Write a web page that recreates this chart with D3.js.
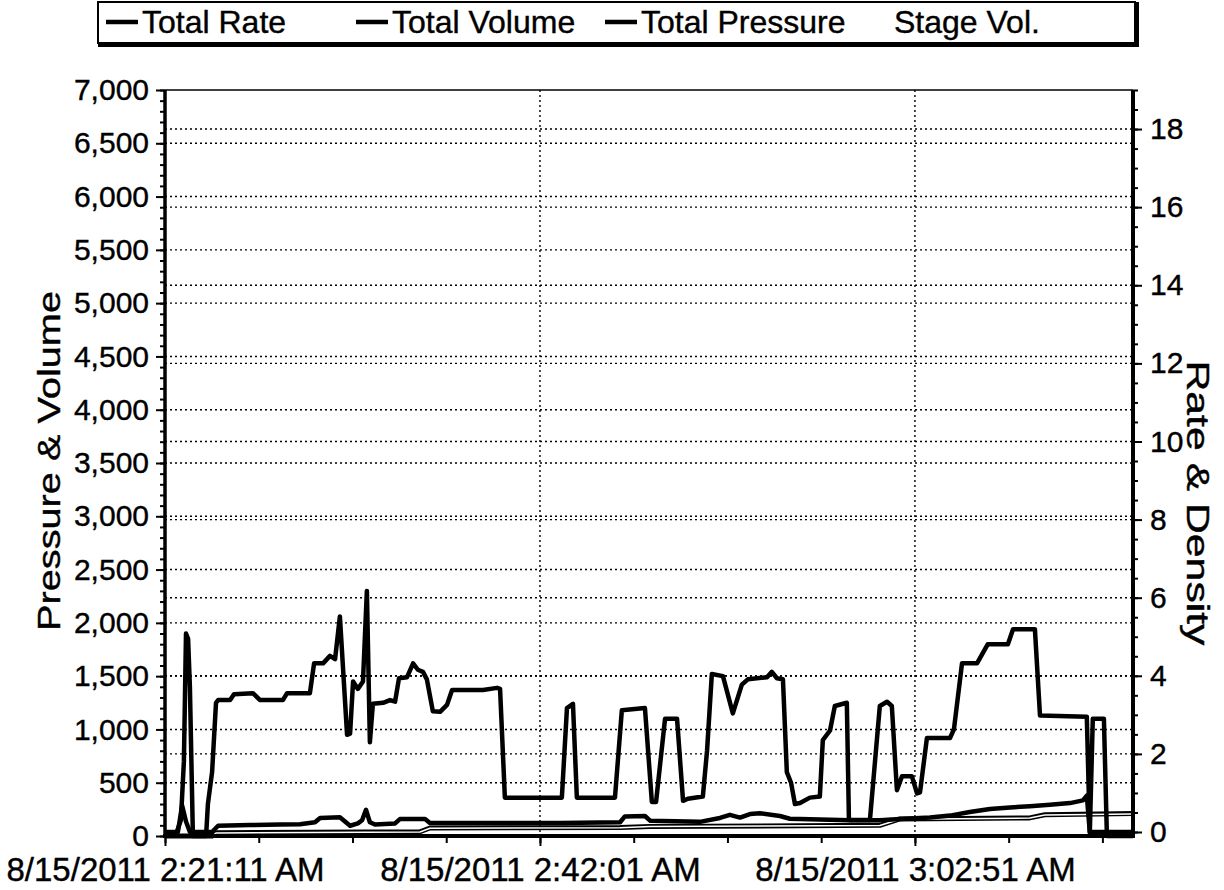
<!DOCTYPE html>
<html><head><meta charset="utf-8">
<script src="https://cdn.jsdelivr.net/npm/d3@7"></script>
<style>
body{margin:0;background:#fff}
svg{display:block}
text{font-family:"Liberation Sans",Arial,sans-serif;fill:#000;stroke:#000;stroke-width:0.4px}
</style>
</head><body>
<svg id="c" width="1224" height="890"></svg>
<script>
// ---------- data ----------
const startTime = new Date(2011, 7, 15, 2, 21, 11);
const spanSeconds = 3227;
const xTickSeconds = [0, 1250, 2500];
const xMinorSeconds = d3.range(0, 3227, 312.5);
const leftTicks = d3.range(0, 7001, 500);
const leftMinor = d3.range(0, 7001, 100);
const rightTicks = d3.range(0, 19, 2);
const rightMinor = d3.range(0, 19.01, 0.5);
const legendNames = ["Total Rate", "Total Volume", "Total Pressure", "Stage Vol."];

// Total Pressure (left axis), seconds since start
const pressureSec = [0,37,53,63,70,77,83,93,137,143,157,170,177,217,230,293,317,393,407,483,497,527,550,567,583,607,617,627,643,660,673,683,693,727,750,767,780,807,827,843,860,873,893,917,940,957,1060,1107,1117,1133,1323,1340,1360,1373,1500,1523,1600,1623,1637,1667,1707,1727,1743,1793,1807,1823,1860,1893,1923,1943,2007,2023,2040,2060,2073,2087,2100,2117,2150,2183,2193,2217,2233,2273,2280,2350,2383,2407,2423,2440,2457,2490,2507,2517,2540,2617,2630,2657,2707,2743,2810,2827,2900,2917,3073,3083,3093,3130,3140,3227];
const pressureVal = [0,20,150,700,1900,1850,1400,0,0,300,600,1250,1275,1275,1330,1340,1275,1275,1340,1340,1620,1620,1690,1660,2060,950,960,1450,1380,1450,2300,880,1240,1250,1275,1260,1480,1490,1620,1560,1540,1470,1170,1165,1230,1370,1370,1390,1380,360,360,1200,1240,360,360,1180,1200,320,320,1100,1100,330,350,370,800,1520,1500,1150,1420,1470,1490,1540,1480,1470,600,500,300,310,360,370,900,990,1220,1250,150,150,1220,1260,1220,430,560,560,400,410,920,920,1000,1620,1620,1800,1800,1940,1940,1130,1120,30,1100,1100,0,0];

// Total Rate (right axis)
const rateSec = [0,43,57,70,83,157,177,283,383,450,500,517,583,600,617,643,657,670,683,700,767,783,867,883,1117,1317,1517,1533,1600,1617,1783,1850,1883,1917,1950,1983,2050,2083,2283,2383,2450,2550,2617,2683,2750,2817,2883,2950,3017,3060,3073,3083,3227];
const rateVal = [0,0,0.68,0.27,0,0,0.16,0.18,0.19,0.2,0.25,0.36,0.38,0.27,0.16,0.22,0.3,0.57,0.25,0.19,0.22,0.33,0.33,0.23,0.23,0.23,0.25,0.4,0.41,0.29,0.26,0.36,0.44,0.37,0.46,0.48,0.41,0.34,0.3,0.3,0.33,0.37,0.42,0.51,0.59,0.63,0.66,0.7,0.74,0.81,0.93,0,0];

// Total Volume and Stage Vol. (left axis)
const volumeSec = [0,157,170,850,883,1517,1617,2383,2450,2883,2933,3227];
const volumeVal = [0,0,30,40,75,80,90,100,160,170,200,210];
const stageSec = [0,157,170,850,883,1517,1617,2383,2450,2883,2933,3227];
const stageVal = [0,0,28,38,72,78,88,98,157,168,197,207];

// ---------- layout ----------
const L = 165, R = 1133, T = 90, B = 836;
const svg = d3.select("#c");
const toDate = s => new Date(startTime.getTime() + s * 1000);
const x = d3.scaleTime().domain([startTime, toDate(spanSeconds)]).range([L, R]);
const yL = d3.scaleLinear().domain([0, 7000]).range([B, T]);
const yR = d3.scaleLinear().domain([0, 19]).range([832, T]);
const fmtTime = d3.timeFormat("%-m/%-d/%Y %-I:%M:%S %p");

// gridlines
const grid = svg.append("g").attr("stroke", "#000").attr("stroke-width", 1.4).attr("stroke-dasharray", "2,3");
grid.selectAll(".gl").data(leftTicks.filter(d => d > 0 && d < 7000)).join("line")
  .attr("x1", L).attr("x2", R).attr("y1", d => yL(d)).attr("y2", d => yL(d));
grid.selectAll(".gr").data(rightTicks.filter(d => d > 0)).join("line")
  .attr("x1", L).attr("x2", R).attr("y1", d => yR(d)).attr("y2", d => yR(d));
grid.selectAll(".gv").data(xTickSeconds.filter(d => d > 0)).join("line")
  .attr("x1", d => x(toDate(d))).attr("x2", d => x(toDate(d))).attr("y1", T).attr("y2", B);

// lines
const mk = (ys) => d3.line().x(d => x(toDate(d[0]))).y(d => ys(d[1]));
const zip = (a, b) => a.map((v, i) => [v, b[i]]);
const plot = svg.append("g").attr("fill", "none").attr("stroke-linejoin", "round");
plot.append("path").attr("d", mk(yL)(zip(volumeSec, volumeVal))).attr("stroke", "#000").attr("stroke-width", 5);
plot.append("path").attr("d", mk(yL)(zip(stageSec, stageVal))).attr("stroke", "#fff").attr("stroke-width", 1.5);
plot.append("path").attr("d", mk(yR)(zip(rateSec, rateVal))).attr("stroke", "#000").attr("stroke-width", 4.5);
plot.append("path").attr("d", mk(yL)(zip(pressureSec, pressureVal))).attr("stroke", "#000").attr("stroke-width", 4.5);

// axes
const styleAxis = (g, fs) => { g.select(".domain").remove(); g.selectAll("line").attr("stroke", "#000").attr("stroke-width", 2); g.selectAll("text").attr("font-size", fs); };
svg.append("g").attr("transform", `translate(${L},0)`).call(d3.axisLeft(yL).tickValues(leftMinor).tickSize(5).tickFormat("")).call(g => styleAxis(g, 0));
svg.append("g").attr("transform", `translate(${L},0)`).call(d3.axisLeft(yL).tickValues(leftTicks).tickSize(9).tickPadding(7).tickFormat(d3.format(","))).call(g => styleAxis(g, 30));
svg.append("g").attr("transform", `translate(${R},0)`).call(d3.axisRight(yR).tickValues(rightMinor).tickSize(5).tickFormat("")).call(g => styleAxis(g, 0));
svg.append("g").attr("transform", `translate(${R},0)`).call(d3.axisRight(yR).tickValues(rightTicks).tickSize(9).tickPadding(8)).call(g => styleAxis(g, 30));
svg.append("g").attr("transform", `translate(0,${B})`).call(d3.axisBottom(x).tickValues(xMinorSeconds.map(toDate)).tickSize(7).tickFormat("")).call(g => styleAxis(g, 0));
svg.append("g").attr("transform", `translate(0,${B})`).call(d3.axisBottom(x).tickValues(xTickSeconds.map(toDate)).tickSize(10).tickPadding(12).tickFormat(fmtTime)).call(g => styleAxis(g, 33));

// frame
svg.append("line").attr("x1", L).attr("x2", R).attr("y1", T).attr("y2", T).attr("stroke", "#000").attr("stroke-width", 1.5);
svg.append("line").attr("x1", L).attr("x2", L).attr("y1", T).attr("y2", B + 2).attr("stroke", "#000").attr("stroke-width", 3.5);
svg.append("line").attr("x1", R).attr("x2", R).attr("y1", T).attr("y2", B + 2).attr("stroke", "#000").attr("stroke-width", 4);
svg.append("line").attr("x1", L - 2).attr("x2", R + 2).attr("y1", B).attr("y2", B).attr("stroke", "#000").attr("stroke-width", 4);

// axis titles
svg.append("text").attr("transform", `translate(60,461) rotate(-90)`).attr("text-anchor", "middle")
  .attr("font-size", 31).attr("textLength", 340).attr("lengthAdjust", "spacingAndGlyphs").text("Pressure & Volume");
svg.append("text").attr("transform", `translate(1187,503) rotate(90)`).attr("text-anchor", "middle")
  .attr("font-size", 31).attr("textLength", 285).attr("lengthAdjust", "spacingAndGlyphs").text("Rate & Density");

// legend
const lg = svg.append("g");
lg.append("rect").attr("x", 98).attr("y", 2).attr("width", 1037).attr("height", 41).attr("fill", "#fff").attr("stroke", "#000").attr("stroke-width", 2);
lg.append("line").attr("x1", 98).attr("x2", 1139).attr("y1", 45).attr("y2", 45).attr("stroke", "#000").attr("stroke-width", 4);
lg.append("line").attr("x1", 1137).attr("x2", 1137).attr("y1", 2).attr("y2", 47).attr("stroke", "#000").attr("stroke-width", 4);
const legX = [106, 356, 605, 858];
const legColor = ["#000", "#000", "#000", "#fff"];
legendNames.forEach((n, i) => {
  lg.append("line").attr("x1", legX[i]).attr("x2", legX[i] + 32).attr("y1", 22).attr("y2", 22).attr("stroke", legColor[i]).attr("stroke-width", 4.5);
  lg.append("text").attr("x", legX[i] + 36).attr("y", 33).attr("font-size", 32).text(n);
});
</script>
</body></html>
